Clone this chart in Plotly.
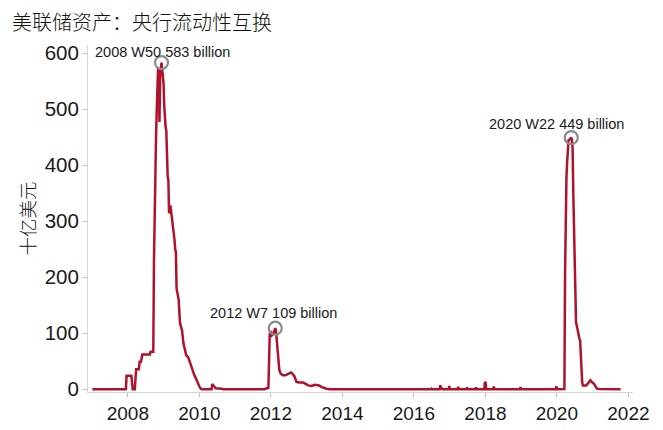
import datetime as dt
import plotly.graph_objects as go

title_text = "美联储资产：央行流动性互换"
y_title = "十亿美元"

# Weekly (Wednesday) levels, billions of USD
dates = [
    "2007-01-03", "2007-12-12", "2007-12-19", "2008-02-06", "2008-02-20", "2008-03-12",
    "2008-03-26", "2008-04-23", "2008-04-30", "2008-05-14", "2008-05-28", "2008-08-13",
    "2008-08-20", "2008-09-17", "2008-09-24", "2008-10-01", "2008-10-08", "2008-10-15",
    "2008-10-22", "2008-10-29", "2008-11-05", "2008-11-12", "2008-11-19", "2008-11-26",
    "2008-12-03", "2008-12-10", "2008-12-17", "2008-12-24", "2008-12-31", "2009-01-07",
    "2009-01-14", "2009-01-21", "2009-01-28", "2009-02-04", "2009-02-11", "2009-02-18",
    "2009-02-25", "2009-03-04", "2009-03-11", "2009-03-18", "2009-03-25", "2009-04-01",
    "2009-04-08", "2009-04-15", "2009-04-22", "2009-04-29", "2009-05-06", "2009-05-13",
    "2009-05-20", "2009-06-03", "2009-06-17", "2009-06-24", "2009-07-08", "2009-07-22",
    "2009-08-05", "2009-08-19", "2009-09-09", "2009-09-30", "2009-10-14", "2009-10-28",
    "2009-11-11", "2009-11-25", "2009-12-09", "2009-12-23", "2010-01-06", "2010-01-20",
    "2010-02-03", "2010-05-05", "2010-05-12", "2010-05-19", "2010-06-02", "2010-06-16",
    "2010-08-18", "2010-09-01", "2011-10-26", "2011-11-09", "2011-11-30", "2011-12-07",
    "2011-12-14", "2011-12-21", "2012-01-04", "2012-01-11", "2012-01-25", "2012-02-01",
    "2012-02-15", "2012-02-22", "2012-02-29", "2012-03-07", "2012-03-14", "2012-03-28",
    "2012-04-11", "2012-05-02", "2012-05-30", "2012-06-27", "2012-07-25", "2012-08-08",
    "2012-08-29", "2012-09-19", "2012-10-17", "2012-11-28", "2012-12-19", "2013-01-16",
    "2013-02-20", "2013-03-27", "2013-05-08", "2013-06-05", "2013-07-24", "2013-08-21",
    "2016-06-22", "2016-06-29", "2016-07-06", "2016-09-21", "2016-09-28", "2016-10-05",
    "2016-10-12", "2016-10-19", "2016-12-21", "2016-12-28", "2017-01-04", "2017-03-22",
    "2017-03-29", "2017-04-05", "2017-06-21", "2017-06-28", "2017-07-05", "2017-09-20",
    "2017-09-27", "2017-10-04", "2017-12-20", "2017-12-27", "2018-01-03", "2018-01-10",
    "2018-03-21", "2018-03-28", "2018-04-04", "2018-12-19", "2018-12-26", "2019-01-02",
    "2019-12-18", "2019-12-25", "2020-01-01", "2020-01-08", "2020-03-11", "2020-03-18",
    "2020-03-25", "2020-04-01", "2020-04-08", "2020-04-15", "2020-04-22", "2020-04-29",
    "2020-05-06", "2020-05-13", "2020-05-20", "2020-05-27", "2020-06-03", "2020-06-10",
    "2020-06-17", "2020-06-24", "2020-07-01", "2020-07-08", "2020-07-15", "2020-07-29",
    "2020-08-05", "2020-08-19", "2020-08-26", "2020-09-02", "2020-09-09", "2020-09-16",
    "2020-09-23", "2020-10-28", "2020-11-11", "2020-12-09", "2020-12-23", "2021-01-13",
    "2021-02-03", "2021-02-17", "2021-03-10", "2021-10-13",
]
values = [
    0, 0, 24, 24, 0, 0,
    36, 36, 49, 49, 62, 62,
    67, 67, 230, 340, 395, 450,
    495, 540, 573, 560, 477, 560,
    572, 583, 570, 552, 546, 505,
    478, 468, 462, 391, 380, 373,
    314, 318, 328, 318, 314, 305,
    296, 284, 266, 250, 245, 180,
    172, 160, 118, 112, 105, 82,
    70, 61, 57, 46, 38, 29,
    25, 20, 14, 10, 3, 0.5,
    0, 0, 9, 8, 4, 2,
    1, 0.1, 0.1, 1.5, 2.4, 2.5,
    54, 99, 101, 96, 98, 103,
    109, 105, 90, 67, 52, 34,
    28, 25, 25, 27, 30, 28,
    23, 13, 12, 12, 10, 7,
    6, 8, 7, 4, 1, 0.3,
    0.3, 1.2, 0.3, 0.3, 7.5, 0.5,
    2, 0.3, 0.3, 6, 0.3, 0.3,
    4.5, 0.3, 0.3, 3, 0.3, 0.3,
    3, 0.3, 0.3, 13, 12, 0.3,
    0.3, 5, 0.3, 0.3, 4, 0.3,
    0.1, 4, 3.5, 0.1, 0.1, 0.5,
    206, 349, 378, 405, 432, 444,
    445, 446, 447, 449, 445, 430,
    350, 278, 220, 160, 120, 108,
    99, 90, 87, 60, 30, 12,
    7, 7, 10, 16, 13, 10,
    4, 1, 0.5, 0.3,
]

peak_dates = ["2008-12-10", "2012-02-15", "2020-05-27"]
peak_xshift = [1, -2, -15]
peak_yshift = [11, 15, 14]

x_ticks = ["2008-01-01", "2010-01-01", "2012-01-01", "2014-01-01",
           "2016-01-01", "2018-01-01", "2020-01-01", "2022-01-01"]
x_tick_text = ["2008", "2010", "2012", "2014", "2016", "2018", "2020", "2022"]
y_ticks = [0, 100, 200, 300, 400, 500, 600]

line_color = "#B0122B"
font_lat = "Liberation Sans, Arial, sans-serif"
font_cjk = "Noto Sans CJK SC, sans-serif"

peak_vals = [values[dates.index(d)] for d in peak_dates]

fig = go.Figure()
fig.add_trace(go.Scatter(
    x=dates, y=values, mode="lines",
    line=dict(color=line_color, width=2.5),
    hoverinfo="x+y", showlegend=False,
))
fig.add_trace(go.Scatter(
    x=peak_dates, y=peak_vals, mode="markers",
    marker=dict(symbol="circle-open", size=13, color="#8a8a8a", line=dict(width=2.2)),
    showlegend=False, hoverinfo="skip",
))

for d, v, xs, ys in zip(peak_dates, peak_vals, peak_xshift, peak_yshift):
    dd = dt.date.fromisoformat(d)
    wk = dd.isocalendar()[1]
    fig.add_annotation(
        x=d, y=v, text=f"{dd.year} W{wk} {v:g} billion",
        showarrow=False, xanchor="center", yanchor="middle",
        xshift=xs, yshift=ys,
        font=dict(family=font_lat, size=14.5, color="#1a1a1a"),
    )

# the page body adds an 8px margin, so the figure is sized to fit the window
fig.update_layout(
    width=655, height=422,
    margin=dict(l=80, r=30, t=37, b=38),
    paper_bgcolor="white", plot_bgcolor="white",
    title=dict(text=title_text, x=4 / 655, xanchor="left", y=1 - 15 / 422, yanchor="middle",
               font=dict(family=font_cjk, size=20, color="#111111", weight=300)),
    xaxis=dict(
        type="date",
        range=["2006-11-20", "2022-02-17"],
        tickvals=x_ticks, ticktext=x_tick_text,
        ticks="outside", ticklen=4, tickcolor="#bdbdbd", tickwidth=1,
        showline=True, linecolor="#d6d6d6", linewidth=1,
        showgrid=False, zeroline=False, automargin=False,
        tickfont=dict(family=font_lat, size=19, color="#1a1a1a"),
    ),
    yaxis=dict(
        range=[-4.8, 614.3],
        tickvals=y_ticks,
        ticks="outside", ticklen=4, tickcolor="#bdbdbd", tickwidth=1,
        showline=True, linecolor="#d6d6d6", linewidth=1,
        showgrid=False, zeroline=False, automargin=False,
        tickfont=dict(family=font_lat, size=20.5, color="#1a1a1a"),
        title=dict(text=y_title, standoff=4,
                   font=dict(family=font_cjk, size=18.5, color="#111111", weight=300)),
    ),
)

fig.write_html("out.html")
